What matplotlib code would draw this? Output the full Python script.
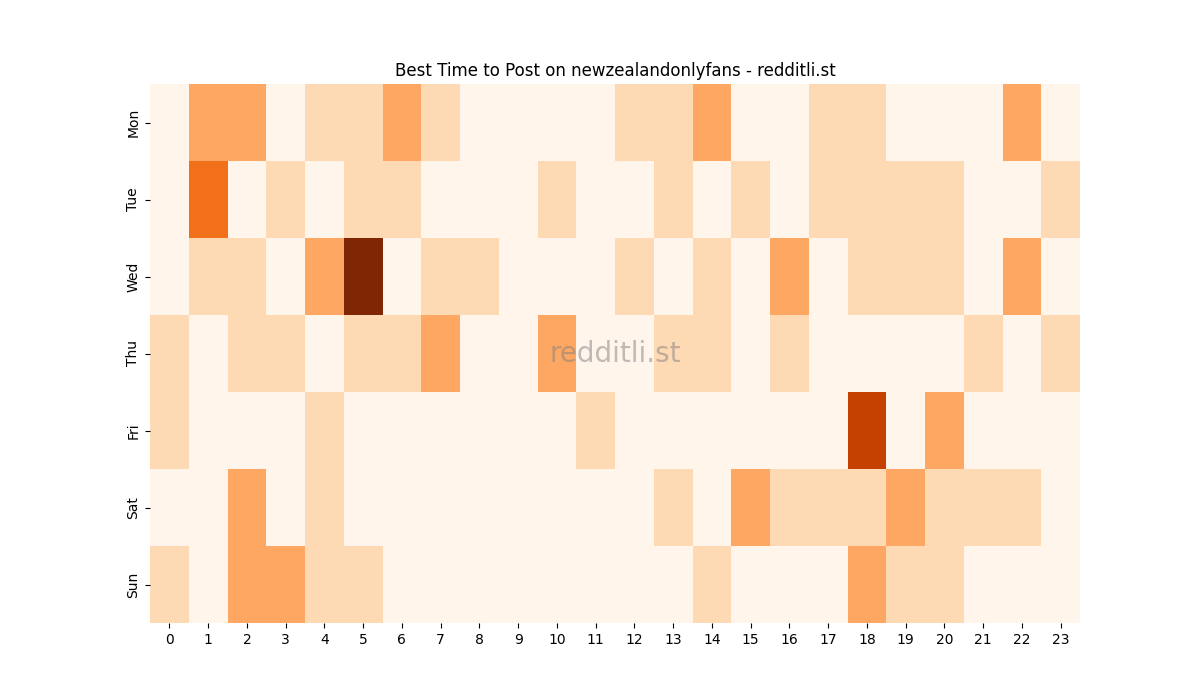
import matplotlib
matplotlib.use("Agg")
import matplotlib.pyplot as plt
import seaborn as sns
import numpy as np

days = ["Mon", "Tue", "Wed", "Thu", "Fri", "Sat", "Sun"]
hours = list(range(24))

mon = [0, 2, 2, 0, 1, 1, 2, 1, 0, 0, 0, 0, 1, 1, 2, 0, 0, 1, 1, 0, 0, 0, 2, 0]
tue = [0, 3, 0, 1, 0, 1, 1, 0, 0, 0, 1, 0, 0, 1, 0, 1, 0, 1, 1, 1, 1, 0, 0, 1]
wed = [0, 1, 1, 0, 2, 5, 0, 1, 1, 0, 0, 0, 1, 0, 1, 0, 2, 0, 1, 1, 1, 0, 2, 0]
thu = [1, 0, 1, 1, 0, 1, 1, 2, 0, 0, 2, 0, 0, 1, 1, 0, 1, 0, 0, 0, 0, 1, 0, 1]
fri = [1, 0, 0, 0, 1, 0, 0, 0, 0, 0, 0, 1, 0, 0, 0, 0, 0, 0, 4, 0, 2, 0, 0, 0]
sat = [0, 0, 2, 0, 1, 0, 0, 0, 0, 0, 0, 0, 0, 1, 0, 2, 1, 1, 1, 2, 1, 1, 1, 0]
sun = [1, 0, 2, 2, 1, 1, 0, 0, 0, 0, 0, 0, 0, 0, 1, 0, 0, 0, 2, 1, 1, 0, 0, 0]

data = np.array([mon, tue, wed, thu, fri, sat, sun])

fig, ax = plt.subplots(figsize=(12, 7), dpi=100)
sns.heatmap(data, cmap="Oranges", cbar=False, xticklabels=hours, yticklabels=days, ax=ax)
ax.set_title("Best Time to Post on newzealandonlyfans - redditli.st")
ax.text(0.5, 0.5, "redditli.st", transform=ax.transAxes, ha="center", va="center",
        fontsize=20, color="gray", alpha=0.5)
plt.setp(ax.get_yticklabels(), rotation=90, va="center")
plt.setp(ax.get_xticklabels(), rotation=0)
fig.savefig("out.png")
